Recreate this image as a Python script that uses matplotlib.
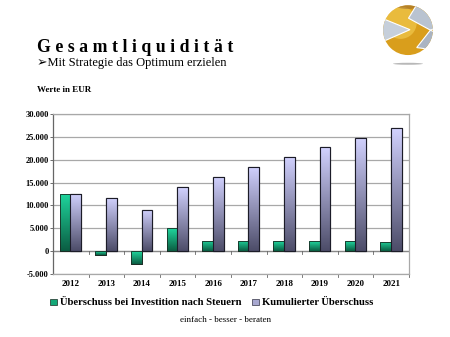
import matplotlib
matplotlib.use("Agg")
import matplotlib.pyplot as plt
import numpy as np
from matplotlib.patches import Circle, Polygon, Ellipse, Rectangle
from matplotlib.colors import LinearSegmentedColormap

years = ["2012", "2013", "2014", "2015", "2016", "2017", "2018", "2019", "2020", "2021"]
ueberschuss = [12600, -800, -2800, 5000, 2200, 2200, 2150, 2150, 2150, 2100]
kumuliert = [12600, 11700, 9000, 14000, 16300, 18500, 20600, 22700, 24800, 26900]
series_names = ["Überschuss bei Investition nach Steuern", "Kumulierter Überschuss"]
yticks = [-5000, 0, 5000, 10000, 15000, 20000, 25000, 30000]

serif = ["Liberation Serif", "DejaVu Serif"]

fig = plt.figure(figsize=(4.5, 3.37), dpi=100)
fig.patch.set_facecolor("white")

# Title block
fig.text(37/450, 1-47/337, "G e s a m t l i q u i d i t ä t", family=serif,
         fontsize=12.8, fontweight="bold", va="center", ha="left")
fig.text(37/450, 1-63/337, "➢Mit Strategie das Optimum erzielen",
         family=serif + ["DejaVu Sans"], fontsize=9, va="center", ha="left")
fig.text(37/450, 1-90/337, "Werte in EUR", family=serif, fontsize=6.5,
         fontweight="bold", va="center", ha="left")
fig.text(225/450, 1-320/337, "einfach - besser - beraten", family=serif,
         fontsize=6.5, va="center", ha="center")

# Chart
ax = fig.add_axes([53/450, 1-274/337, 356/450, 160/337])
x = np.arange(len(years))
w = 0.3
g_cmap = LinearSegmentedColormap.from_list("g", ["#0b5c42", "#1fd79e"])
p_cmap = LinearSegmentedColormap.from_list("p", ["#4c4c68", "#d2d2ff"])

bars1 = ax.bar(x - 0.16, ueberschuss, w, color="#19b884", edgecolor="#1a2a22", linewidth=0.6, zorder=3)
bars2 = ax.bar(x + 0.14, kumuliert, w, color="#a8a8d8", edgecolor="#1c1c28", linewidth=0.8, zorder=3)

grad = np.linspace(0, 1, 256).reshape(-1, 1)
for bars, cmap in ((bars1, g_cmap), (bars2, p_cmap)):
    for b in bars:
        bx, by = b.get_x(), b.get_y()
        bw, bh = b.get_width(), b.get_height()
        y0, y1 = min(by, by + bh), max(by, by + bh)
        im = ax.imshow(grad, cmap=cmap, aspect="auto", origin="lower",
                       extent=[bx, bx + bw, y0, y1], zorder=3.5)
        im.set_clip_path(b)
        edge = Rectangle((bx, by), bw, bh, fill=False, edgecolor=b.get_edgecolor(),
                         linewidth=b.get_linewidth(), zorder=4)
        ax.add_patch(edge)

ax.set_xlim(-0.5, len(years) - 0.5)
ax.set_ylim(-5000, 30000)
ax.set_yticks(yticks)
ax.set_yticklabels([f"{v:,}".replace(",", ".") for v in yticks], family=serif,
                   fontsize=6, fontweight="bold")
ax.set_xticks(x)
ax.set_xticklabels(years, family=serif, fontsize=6.5, fontweight="bold")
ax.tick_params(axis="x", length=0, pad=4)
ax.tick_params(axis="y", length=2, width=0.6, color="#555555", pad=1)
ax.yaxis.grid(True, color="#a8a8a8", linewidth=0.9, zorder=0)
ax.set_axisbelow(True)
for s in ["top", "right", "bottom"]:
    ax.spines[s].set_color("#a8a8a8")
    ax.spines[s].set_linewidth(0.9)
ax.spines["left"].set_color("#666666")
ax.spines["left"].set_linewidth(0.9)
ax.axhline(0, color="#888888", linewidth=0.9, zorder=2)
for b in np.arange(0.5, len(years) - 0.5, 1.0):
    ax.plot([b, b], [0, -600], color="#666666", linewidth=0.6, zorder=2, clip_on=False)
    ax.plot([b, b], [-5000, -5600], color="#666666", linewidth=0.6, zorder=2, clip_on=False)
ax.plot([len(years) - 0.5] * 2, [-5000, -5600], color="#666666", linewidth=0.6, clip_on=False)

# Legend
fig.patches.append(Rectangle((50/450, 1-305/337), 7/450, 6/337, transform=fig.transFigure,
                             facecolor="#14a878", edgecolor="#1a2a22", linewidth=0.5))
fig.text(60.5/450, 1-302/337, series_names[0], family=serif, fontsize=7.7, fontweight="bold",
         va="center", ha="left")
fig.patches.append(Rectangle((252/450, 1-305/337), 7/450, 6/337, transform=fig.transFigure,
                             facecolor="#a8a8d0", edgecolor="#333344", linewidth=0.5))
fig.text(262/450, 1-302/337, series_names[1], family=serif, fontsize=7.7, fontweight="bold",
         va="center", ha="left")

# Logo
lax = fig.add_axes([380/450, 1-70/337, 56/450, 66/337])
lax.set_xlim(-1.12, 1.12)
lax.set_ylim(-1.6, 1.05)
lax.set_aspect("equal")
lax.axis("off")
circ = Circle((0, 0), 1, facecolor="#d99e1c", edgecolor="none")
lax.add_patch(circ)
hl = Circle((-0.3, 0.3), 0.65, facecolor="#f8d45a", edgecolor="none", alpha=0.55)
lax.add_patch(hl)
hl.set_clip_path(circ)
top = Ellipse((0.0, 1.0), 1.0, 0.3, facecolor="#9a6a30", edgecolor="none", alpha=0.55)
lax.add_patch(top)
top.set_clip_path(circ)
left_w = Polygon([(-1.1, 0.5), (0.08, 0.02), (-1.1, -0.5)], facecolor="#c6cfda",
                 edgecolor="white", linewidth=0.8)
up_w = Polygon([(0.4, 1.1), (1.1, 1.1), (1.1, 0.08), (0.9, 0.0), (0.02, 0.48)],
               facecolor="#b9c3d0", edgecolor="white", linewidth=0.8)
low_w = Polygon([(0.9, 0.0), (1.1, -0.1), (1.1, -0.8), (0.35, -0.7)], facecolor="#aab4c2",
                edgecolor="white", linewidth=0.8)
for p in (left_w, up_w, low_w):
    lax.add_patch(p)
    p.set_clip_path(circ)
lax.add_patch(Ellipse((0, -1.35), 1.2, 0.08, facecolor="#9a9a9a", edgecolor="none", alpha=0.7))

fig.savefig("out.png", dpi=100)
